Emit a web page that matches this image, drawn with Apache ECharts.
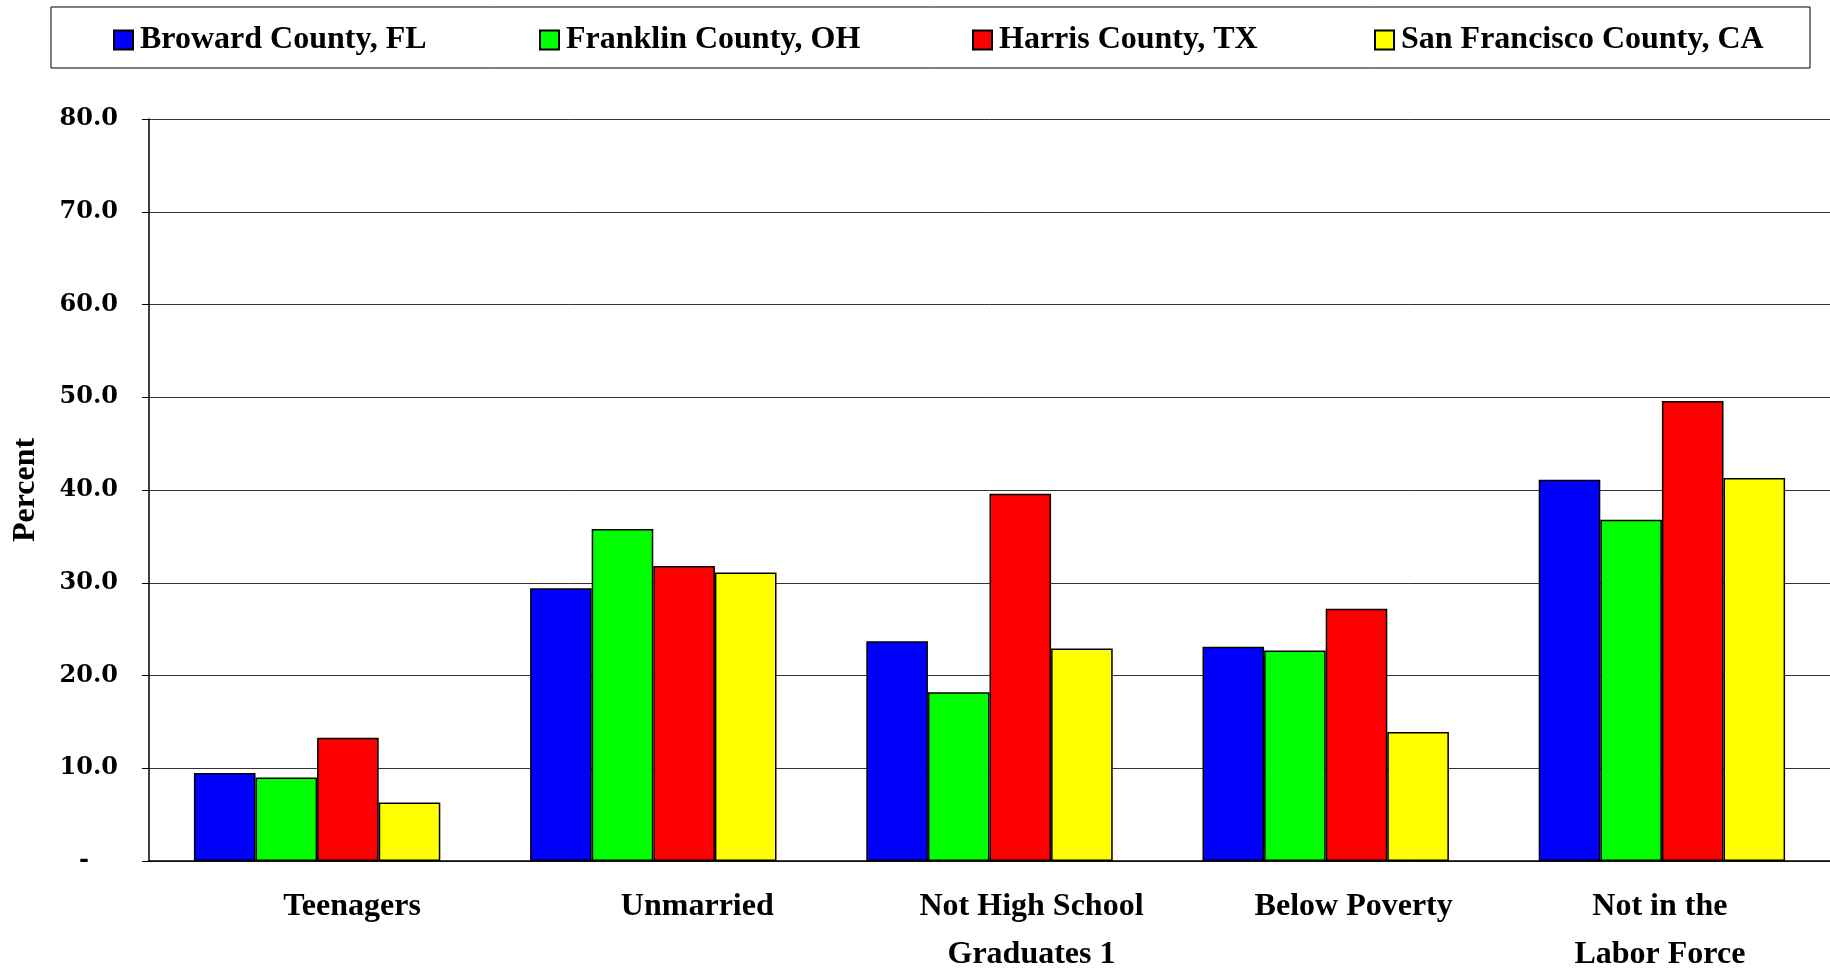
<!DOCTYPE html>
<html>
<head>
<meta charset="utf-8">
<title>Percent by county</title>
<script src="https://cdn.jsdelivr.net/npm/echarts@6/dist/echarts.min.js"></script>
<style>
  html, body { margin: 0; padding: 0; background: #fff; }
  #chart { width: 1830px; height: 971px; }
</style>
</head>
<body>
<div id="chart"></div>
<script>
// data
var categories = ['Teenagers', 'Unmarried', 'Not High School\nGraduates 1', 'Below Poverty', 'Not in the\nLabor Force']
var seriesNames = ['Broward County, FL', 'Franklin County, OH', 'Harris County, TX', 'San Francisco County, CA']
var broward = [9.5, 29.4, 23.7, 23.1, 41.1]
var franklin = [9.0, 35.8, 18.2, 22.7, 36.8]
var harris = [13.3, 31.8, 39.6, 27.2, 49.6]
var sanFrancisco = [6.3, 31.1, 22.9, 13.9, 41.3]
var yTicks = { min: 0, max: 80, interval: 10 }

var seriesValues = [broward, franklin, harris, sanFrancisco]
var colorList = ['#0000ff', '#00ff00', '#ff0000', '#ffff00']

// excel puts the category labels a bit off centre
var labelShift = [35, 44, 42, 28, -2]
var legendLeft = [108, 534, 967, 1369]

var serif = '"Liberation Serif", "Times New Roman", serif'

var chart = echarts.init(document.getElementById('chart'))

var rich = {}
labelShift.forEach(function (s, i) {
  rich['c' + i] = {
    fontFamily: serif,
    fontWeight: 'bold',
    fontSize: 32,
    lineHeight: 48,
    color: '#000',
    padding: s >= 0 ? [0, 0, 0, 2 * s] : [0, -2 * s, 0, 0],
  }
})
rich.dash = {
  fontFamily: '"DejaVu Serif", serif',
  fontWeight: 'bold',
  fontSize: 24,
  color: '#000',
  padding: [0, 29, 0, 0],
}

var option = {
  backgroundColor: '#fff',
  animation: false,
  graphic: [
    {
      type: 'rect',
      shape: { x: 51, y: 7, width: 1759, height: 61 },
      style: { fill: 'none', stroke: '#000', lineWidth: 1 },
      silent: true,
    },
  ],
  legend: seriesNames.map(function (name, i) {
    return {
      data: [name],
      icon: 'rect',
      left: legendLeft[i],
      top: 19,
      itemWidth: 19,
      itemHeight: 19,
      itemGap: 0,
      textStyle: {
        fontFamily: serif,
        fontWeight: 'bold',
        fontSize: 32,
        color: '#000',
        padding: [0, 0, 0, 2],
      },
    }
  }),
  grid: {
    left: 149,
    right: 0,
    top: 119,
    bottom: 107,
    containLabel: false,
  },
  xAxis: {
    type: 'category',
    data: categories,
    axisLine: { lineStyle: { color: '#000', width: 1.5 } },
    axisTick: { show: false },
    axisLabel: {
      interval: 0,
      margin: 22,
      formatter: function (value, index) {
        return value
          .split('\n')
          .map(function (line) {
            return '{c' + index + '|' + line + '}'
          })
          .join('\n')
      },
      rich: rich,
    },
  },
  yAxis: {
    type: 'value',
    min: yTicks.min,
    max: yTicks.max,
    interval: yTicks.interval,
    name: 'Percent',
    nameLocation: 'middle',
    nameGap: 107,
    nameRotate: 90,
    nameTextStyle: {
      fontFamily: serif,
      fontWeight: 'bold',
      fontSize: 32,
      color: '#000',
    },
    axisLine: { show: true, lineStyle: { color: '#000', width: 1.5 } },
    axisTick: { show: true, length: 7, lineStyle: { color: '#000' } },
    splitLine: { lineStyle: { color: '#333', width: 1 } },
    axisLabel: {
      margin: 31,
      fontFamily: '"DejaVu Serif", serif',
      fontWeight: 'bold',
      fontSize: 24,
      color: '#000',
      formatter: function (v) {
        return v === 0 ? '{dash|-}' : v.toFixed(1)
      },
      rich: rich,
    },
  },
  series: seriesNames.map(function (name, i) {
    return {
      name: name,
      type: 'bar',
      data: seriesValues[i],
      barWidth: 61.6,
      barGap: '0%',
      barCategoryGap: '26.5%',
      itemStyle: {
        color: colorList[i],
        borderColor: '#000',
        borderWidth: 1.5,
      },
    }
  }),
}

chart.setOption(option)
</script>
</body>
</html>
